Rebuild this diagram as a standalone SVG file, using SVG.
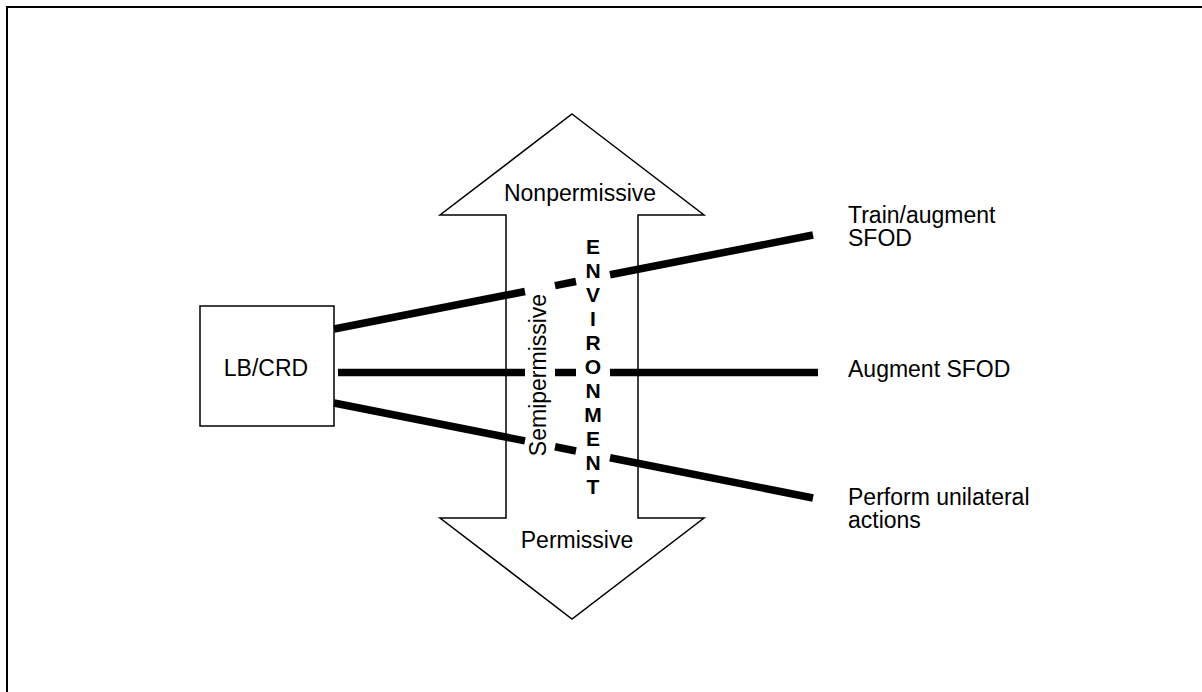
<svg xmlns="http://www.w3.org/2000/svg" width="1202" height="692" viewBox="0 0 1202 692">
<style>
text{font-family:"Liberation Sans",Arial,sans-serif;font-size:23px;fill:#000}
.b{font-weight:bold;font-size:21px}
.thin{fill:#fff;stroke:#000;stroke-width:1.5}
.link{stroke:#000;stroke-width:7.5;fill:none;stroke-linecap:butt}
</style>
<rect width="1202" height="692" fill="#fff"/>
<path d="M7,692 V7 H1202" fill="none" stroke="#000" stroke-width="2"/>
<g id="environment-arrow">
<polygon class="thin" points="572,114 704,215 638,215 638,518 704,518 572,619 440,518 506,518 506,215 440,215"/>
<text x="580" y="201" text-anchor="middle">Nonpermissive</text>
<text x="577" y="548" text-anchor="middle">Permissive</text>
<text transform="translate(546,375) rotate(-90)" text-anchor="middle">Semipermissive</text>
<text class="b" text-anchor="middle"><tspan x="593" y="254">E</tspan><tspan x="593" dy="24">N</tspan><tspan x="593" dy="24">V</tspan><tspan x="593" dy="24">I</tspan><tspan x="593" dy="24">R</tspan><tspan x="593" dy="24">O</tspan><tspan x="593" dy="24">N</tspan><tspan x="593" dy="24">M</tspan><tspan x="593" dy="24">E</tspan><tspan x="593" dy="24">N</tspan><tspan x="593" dy="24">T</tspan></text>
</g>
<g id="lbcrd">
<rect class="thin" x="200" y="306" width="134" height="120"/>
<text x="266" y="376" text-anchor="middle">LB/CRD</text>
</g>
<g id="connectors">
<path class="link" d="M334,329 L525,291.5 M555,285.6 L576,281.5 M610,274.8 L813,235"/>
<path class="link" d="M338,372.5 L525,372.5 M555,372.5 L576,372.5 M610,372.5 L818,372.5"/>
<path class="link" d="M334,403 L525,440.9 M555,446.8 L576,451 M610,457.7 L813,498"/>
</g>
<g id="train-augment">
<text x="848" y="223">Train/augment</text>
<text x="848" y="246">SFOD</text>
</g>
<g id="augment">
<text x="848" y="377">Augment SFOD</text>
</g>
<g id="perform">
<text x="848" y="505">Perform unilateral</text>
<text x="848" y="528">actions</text>
</g>
</svg>
